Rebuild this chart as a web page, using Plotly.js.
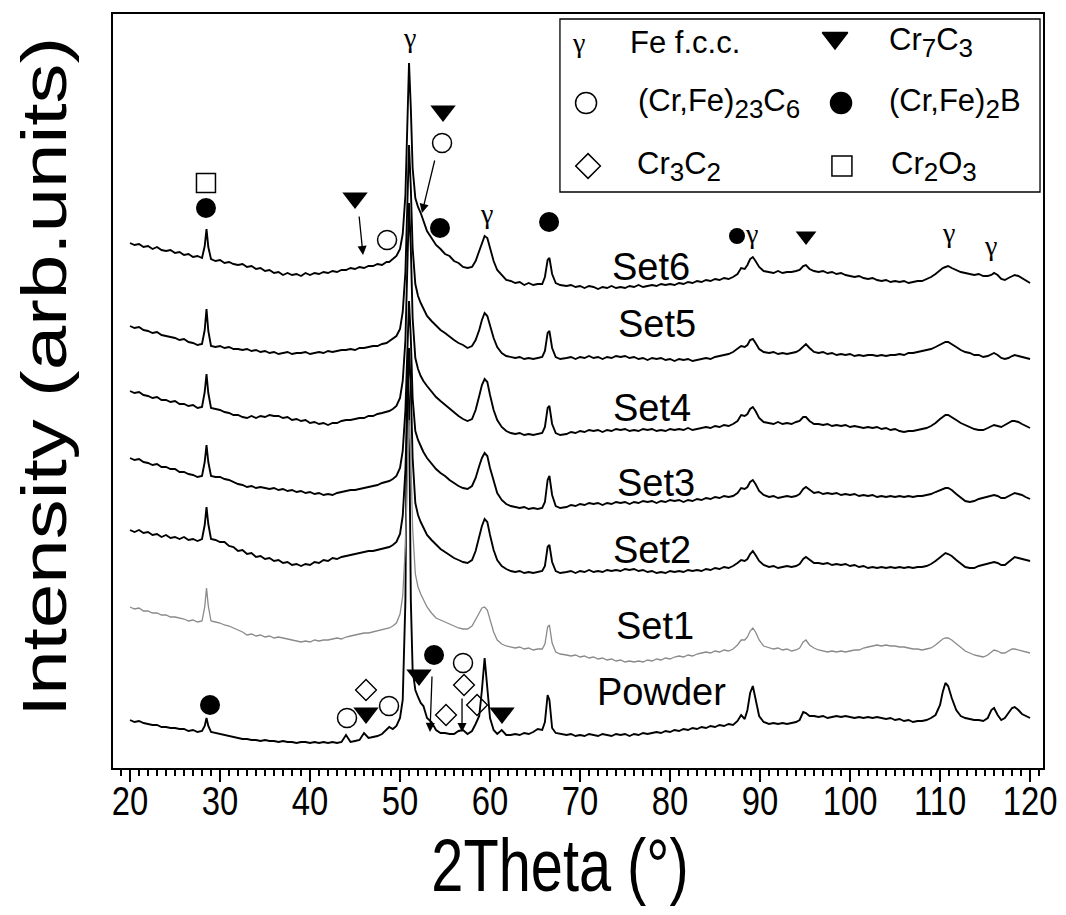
<!DOCTYPE html>
<html>
<head>
<meta charset="utf-8">
<script src="https://cdn.plot.ly/plotly-3.0.1.min.js"></script>
<style>
  html, body { margin: 0; padding: 0; background: #fff; }
  #chart { width: 1066px; height: 915px; }
</style>
</head>
<body>
<div id="chart"></div>
<script>
// 2Theta grid (degrees)
const twoTheta = [
  20,20.5,21,21.5,22,22.5,23,23.5,24,24.5,25,25.5,26,26.5,27,27.5,
  28,28.3,28.5,28.7,29,
  29.5,30,30.5,31,31.5,32,32.5,33,33.5,34,34.5,35,35.5,36,36.5,37,37.5,38,38.5,39,39.5,40,40.5,41,41.5,42,42.5,43,43.5,
  44,44.5,45,45.5,46,46.5,47,47.5,48,48.5,48.8,49.2,49.6,50,50.3,50.6,50.8,51,51.2,51.4,51.7,52,52.3,52.6,53,53.5,54,54.5,55,55.5,56,56.5,57,57.5,58,58.4,58.8,59.1,59.4,59.7,60,60.4,60.8,61.3,61.8,62.3,62.8,63.3,63.8,64.3,64.8,65.3,65.8,66.1,66.4,66.6,66.9,67.3,67.8,
  68.5,69,69.5,70,70.5,71,71.5,72,72.5,73,73.5,74,74.5,75,75.5,76,76.5,77,77.5,78,78.5,79,79.5,80,80.5,81,81.5,82,82.5,83,83.5,84,84.5,85,85.5,86,86.5,87,
  87.5,87.9,88.3,88.6,88.9,89.2,89.5,89.9,90.4,91,91.5,92,92.5,93,93.5,94,94.4,94.8,95.1,95.5,96,
  96.5,97,97.5,98,98.5,99,99.5,100,100.5,101,101.5,102,102.5,103,103.5,104,104.5,105,105.5,106,106.5,107,107.5,108,108.5,
  109,109.5,110,110.3,110.6,110.9,111.3,111.8,112.3,112.8,113.3,113.8,114.3,114.8,115.3,115.7,116,116.4,116.8,117.2,117.6,118,118.3,118.7,119.1,119.5,120
];

// Intensities (arb. units, stacked as displayed)
const set6 = [
  525,523,524,521,522,519,521,518,517,518,515,516,513,514,511,512,
  510,522,539,521,509,
  507,508,505,506,504,503,504,501,502,499,500,497,498,495,496,493,495,493,494,492,495,493,495,494,496,495,497,496,498,
  498,500,499,501,500,502,502,504,503,506,506,509,512,519,534,573,643,705,660,600,570,561,555,547,537,530,523,519,514,512,507,505,501,500,501,507,517,525,532,530,519,507,498,493,488,487,485,486,483,485,483,484,484,491,508,510,494,485,483,
  482,483,481,482,480,482,481,479,481,480,482,480,481,480,482,481,483,481,482,483,482,484,483,484,483,485,484,486,485,487,486,488,487,489,488,490,489,491,
  494,500,499,503,509,511,507,501,497,496,495,497,495,496,496,497,498,502,503,499,497,
  496,497,495,496,494,495,493,492,491,492,490,489,490,488,487,488,486,487,486,487,485,486,487,487,489,
  491,494,498,500,501,502,500,498,496,495,494,493,494,492,492,493,495,493,489,488,490,492,493,492,490,488,485
];
const set5 = [
  442,440,441,438,437,435,436,433,432,431,430,428,429,426,425,423,
  424,438,459,437,422,
  421,422,420,421,419,419,418,419,417,418,416,417,415,416,414,415,416,414,415,415,416,414,415,416,415,417,416,417,418,
  418,419,418,420,420,421,422,422,424,425,427,429,432,439,456,496,563,623,580,520,484,472,465,459,452,447,442,438,435,431,428,425,423,420,422,428,438,448,455,452,442,430,421,415,412,411,410,411,409,410,409,410,411,417,435,437,420,411,409,
  410,411,409,411,410,412,410,411,409,411,410,412,411,412,410,411,409,410,408,410,409,410,408,409,407,409,408,409,407,408,409,410,409,411,412,413,414,416,
  419,422,421,423,428,429,425,419,416,415,416,414,415,414,415,416,418,422,424,420,416,
  415,416,414,415,413,414,413,414,412,413,412,413,413,412,413,412,413,413,414,413,415,415,416,417,418,
  419,421,423,425,426,426,424,421,418,416,415,413,413,411,412,414,415,413,410,409,410,412,413,412,411,410,409
];
const set4 = [
  377,375,376,373,372,370,371,368,368,366,367,364,364,362,363,360,
  361,376,394,375,360,
  359,358,356,355,353,353,351,350,352,350,352,351,353,352,352,350,351,348,349,347,348,345,346,344,345,343,345,345,347,
  348,348,349,350,350,352,352,354,355,356,357,359,362,370,387,428,500,565,520,450,410,399,392,387,382,376,371,367,363,359,355,352,349,347,349,358,372,383,389,386,373,358,348,341,337,335,334,335,333,334,333,334,335,341,360,362,344,335,333,
  334,336,335,337,336,338,337,338,336,338,337,339,338,339,337,338,337,339,338,339,337,338,337,339,338,339,338,340,338,339,340,341,340,342,341,343,342,344,
  347,353,352,354,359,361,357,350,346,345,344,346,344,345,344,346,347,351,351,347,344,
  344,343,344,342,343,342,343,341,342,341,340,341,340,341,339,340,338,339,337,336,337,337,338,339,340,
  342,345,349,351,353,353,351,348,345,343,341,339,338,338,340,342,343,342,341,343,345,347,347,346,344,342,340
];
const set3 = [
  310,308,309,306,305,303,304,301,301,299,299,296,296,294,293,291,
  292,306,323,306,292,
  291,291,289,288,286,284,283,281,282,280,281,280,279,280,278,279,277,278,276,277,275,276,274,275,273,274,273,275,276,
  277,278,278,279,280,281,282,283,285,286,287,289,292,300,317,358,418,467,430,370,337,328,322,316,310,304,299,295,292,288,285,282,280,279,282,290,302,310,315,312,300,286,275,268,264,262,261,260,261,259,260,259,260,266,288,292,273,262,260,
  261,263,262,264,263,265,264,265,263,265,264,266,265,266,264,266,265,267,266,267,265,267,266,268,267,268,266,268,267,269,268,270,269,271,270,272,271,272,
  275,280,279,281,286,288,284,277,273,271,272,270,271,272,271,272,274,279,281,278,275,
  276,274,275,274,275,273,274,273,274,272,273,272,273,271,272,271,272,271,272,271,272,271,272,272,273,
  274,276,278,279,280,280,278,274,270,267,266,267,269,270,271,272,273,272,270,270,272,274,275,274,273,271,269
];
const set2 = [
  238,236,238,235,236,233,234,231,233,230,231,229,231,228,229,227,
  229,243,261,244,229,
  228,226,226,222,221,217,218,214,215,211,212,209,210,207,208,205,206,203,204,202,204,203,206,205,208,207,210,209,211,
  212,213,214,215,216,217,217,218,219,220,221,223,226,234,252,298,368,420,380,310,265,253,246,240,233,228,223,219,216,213,210,208,206,205,208,217,231,242,249,246,233,218,208,202,199,197,196,197,195,196,195,196,197,202,221,223,206,197,195,
  196,197,195,197,196,198,196,197,196,198,197,198,197,199,198,199,197,198,196,197,195,196,195,197,196,197,196,198,197,198,197,199,198,200,199,201,200,202,
  205,208,207,209,214,217,213,207,203,201,202,200,201,202,201,202,204,209,211,208,205,
  205,204,205,203,204,203,204,202,203,201,202,200,201,200,201,200,201,200,201,200,201,200,201,201,202,
  204,207,211,213,215,214,212,208,204,201,200,200,202,203,204,205,206,205,203,203,206,209,211,210,209,208,207
];
const set1 = [
  161,159,160,157,157,155,155,153,153,151,151,150,149,147,148,146,
  147,161,180,162,147,
  146,145,143,142,140,138,136,133,134,132,133,131,132,130,131,130,129,128,127,126,127,126,128,127,128,128,129,130,129,
  131,132,133,134,135,135,136,137,138,139,140,142,145,154,172,223,298,348,310,240,194,181,174,168,161,155,150,148,146,144,142,140,139,139,142,148,155,160,161,158,148,136,128,124,122,121,120,121,119,120,118,119,119,124,141,143,125,116,114,
  113,112,113,111,112,110,111,109,110,108,109,107,108,106,107,106,107,106,108,107,109,108,110,109,111,112,111,113,112,114,115,116,115,117,116,118,117,119,
  123,128,128,131,137,140,136,128,122,120,119,120,118,119,117,118,120,126,128,123,120,
  118,117,116,117,116,117,116,117,118,118,120,121,122,123,122,123,122,122,121,121,120,119,119,118,119,
  120,123,127,129,130,130,128,124,120,117,115,113,112,111,113,116,118,117,115,115,117,119,119,118,117,116,115
];
const powder = [
  48,46,47,45,44,43,43,41,41,40,40,39,39,37,38,36,
  37,42,50,42,36,
  35,34,33,32,31,30,29,29,28,28,27,28,27,27,26,27,26,26,25,26,26,25,26,25,26,25,26,25,26,
  33,26,27,28,35,30,31,32,34,38,41,39,42,50,68,168,408,368,168,98,78,71,65,62,50,46,38,35,35,34,34,37,38,34,37,44,52,78,110,80,50,38,34,38,33,33,34,33,35,34,36,39,38,46,73,68,40,35,34,
  33,34,32,33,32,34,33,32,34,33,32,34,33,34,32,34,33,35,34,35,36,35,37,36,38,37,39,38,40,39,41,40,42,41,43,42,44,43,
  47,53,49,58,75,82,68,52,46,44,45,44,45,44,45,46,48,56,55,52,52,
  51,52,50,51,52,51,52,51,50,51,50,51,50,51,50,49,50,48,49,47,48,46,47,47,48,
  50,53,63,76,85,82,70,58,52,50,49,48,48,47,50,58,60,53,48,50,55,60,61,58,54,52,50
];

const seriesNames = ['Powder','Set1','Set2','Set3','Set4','Set5','Set6'];
const seriesData  = [powder, set1, set2, set3, set4, set5, set6];
const seriesColors = ['#000000','#8a8a8a','#000000','#000000','#000000','#000000','#000000'];
const seriesWidths = [1.9, 1.3, 1.9, 1.9, 1.9, 1.9, 1.9];

// Curve labels
const labelText = ['Set6','Set5','Set4','Set3','Set2','Set1','Powder'];
const labelX = [77.9, 78.6, 78.0, 78.4, 78.0, 78.3, 79.1];
const labelY = [501, 444, 360, 285, 218, 142, 76];

// Phase markers on the patterns
const filledCircleX = [28.44, 54.44, 66.56, 87.44, 28.89, 53.78];
const filledCircleY = [560, 540, 546, 532, 63, 113];
const filledCircleS = [20, 20, 20, 16, 20, 20];
const openCircleX = [48.56, 54.67, 44.11, 48.78, 57.0];
const openCircleY = [528, 625, 50, 62, 105];
const triangleX = [45.0, 54.78, 95.11, 46.22, 52.11, 61.33];
const triangleY = [570, 657, 532, 55, 93, 55];
const triangleS = [22, 22, 18, 22, 22, 22];
const diamondX = [46.22, 55.11, 57.11, 58.56];
const diamondY = [78, 53, 83, 63];
const squareX = [28.44];
const squareY = [585];

// gamma (Fe f.c.c.) labels
const gammaX = [51.0, 59.63, 89.1, 110.9, 115.56];
const gammaY = [731, 555, 535, 536, 523];

// arrows: [tipX, tipY, tailX, tailY]
const arrows = [
  [45.89, 513, 45.44, 553],
  [52.44, 555, 53.89, 609],
  [53.33, 36, 53.56, 93],
  [56.89, 36, 56.89, 71]
];

// key (legend box)
const keySymbols = ['triangle-down','circle-open','circle','diamond-open','square-open'];
const keyX = [98.33, 70.67, 99.0, 70.89, 99.1];
const keyY = [730, 665, 665, 602, 602];
const keySizes = [22, 21, 21, 19, 20];
const SUB = s => '<sub><span style="font-size:26px">' + s + '</span></sub>';
const keyText = ['Fe f.c.c.', 'Cr' + SUB('7') + 'C' + SUB('3'), '(Cr,Fe)' + SUB('23') + 'C' + SUB('6'),
                 '(Cr,Fe)' + SUB('2') + 'B', 'Cr' + SUB('3') + 'C' + SUB('2'), 'Cr' + SUB('2') + 'O' + SUB('3')];
const keyTextX = [75.33, 104.1, 76.2, 104.1, 76.1, 104.3];
const keyTextY = [726, 726, 665, 665, 602, 602];

const SANS = '"Liberation Sans", Arial, sans-serif';
const SERIF = '"Liberation Serif", "Times New Roman", serif';

const traces = [];
seriesData.forEach((d, i) => {
  traces.push({
    x: twoTheta, y: d, name: seriesNames[i], type: 'scatter', mode: 'lines',
    line: {color: seriesColors[i], width: seriesWidths[i]}, hoverinfo: 'skip', showlegend: false
  });
});
function markerTrace(x, y, symbol, size, lw) {
  return {x: x, y: y, type: 'scatter', mode: 'markers', hoverinfo: 'skip', showlegend: false,
    marker: {symbol: symbol, size: size, color: '#000', opacity: 1, line: {color: '#000', width: lw}}};
}
traces.push(markerTrace(filledCircleX, filledCircleY, 'circle', filledCircleS, 0));
traces.push(markerTrace(openCircleX, openCircleY, 'circle-open', 19, 1.5));
traces.push(markerTrace(triangleX, triangleY, 'triangle-down', triangleS, 0));
traces.push(markerTrace(diamondX, diamondY, 'diamond-open', 16, 1.4));
traces.push(markerTrace(squareX, squareY, 'square-open', 19, 1.5));
traces.push({x: keyX, y: keyY, type: 'scatter', mode: 'markers', hoverinfo: 'skip', showlegend: false,
  marker: {symbol: keySymbols, size: keySizes, color: '#000', opacity: 1, line: {color: '#000', width: 1.5}}});

const annotations = [];
labelText.forEach((t, i) => annotations.push({
  x: labelX[i], y: labelY[i], xref: 'x', yref: 'y', text: t, showarrow: false,
  font: {family: SANS, size: 38, color: '#000'}, xanchor: 'center', yanchor: 'middle'
}));
gammaX.forEach((gx, i) => annotations.push({
  x: gx, y: gammaY[i], xref: 'x', yref: 'y', text: 'γ', showarrow: false,
  font: {family: SERIF, size: 28, color: '#000'}, xanchor: 'center', yanchor: 'middle'
}));
annotations.push({x: 69.78, y: 726, xref: 'x', yref: 'y', text: 'γ', showarrow: false,
  font: {family: SERIF, size: 28, color: '#000'}, xanchor: 'center', yanchor: 'middle'});
keyText.forEach((t, i) => annotations.push({
  x: keyTextX[i], y: keyTextY[i], xref: 'x', yref: 'y', text: t, showarrow: false,
  font: {family: SANS, size: 31, color: '#000'}, xanchor: 'left', yanchor: 'middle'
}));
arrows.forEach(a => annotations.push({
  x: a[0], y: a[1], ax: a[2], ay: a[3], xref: 'x', yref: 'y', axref: 'x', ayref: 'y',
  text: '', showarrow: true, arrowhead: 2, arrowsize: 1.4, arrowwidth: 1.3, arrowcolor: '#000'
}));

const layout = {
  width: 1066, height: 915,
  margin: {l: 113, r: 23, t: 14, b: 147},
  paper_bgcolor: '#fff', plot_bgcolor: '#fff',
  showlegend: false,
  xaxis: {
    range: [18.11, 121.44], tickmode: 'linear', tick0: 0, dtick: 10,
    ticks: 'outside', ticklen: 12, tickwidth: 2, tickcolor: '#000',
    showline: true, linewidth: 2, linecolor: '#000', mirror: true,
    showgrid: false, zeroline: false,
    tickfont: {family: SANS, size: 41, color: '#000'},
    minor: {dtick: 1, tick0: 0, ticks: 'outside', ticklen: 6, tickwidth: 1.5, tickcolor: '#000', showgrid: false},
    title: {text: '2Theta (°)', font: {family: SANS, size: 74, color: '#000'}, standoff: 14}
  },
  yaxis: {
    range: [0, 754], showticklabels: false, ticks: '',
    showline: true, linewidth: 2, linecolor: '#000', mirror: true,
    showgrid: false, zeroline: false,
    title: {text: 'Intensity (arb.units)', font: {family: SANS, size: 80, color: '#000'}, standoff: 30}
  },
  shapes: [{type: 'rect', xref: 'paper', yref: 'paper', x0: 0.4806, x1: 0.9968, y0: 0.7639, y1: 0.9934,
    line: {color: '#000', width: 1.3}, fillcolor: 'rgba(0,0,0,0)'}],
  annotations: annotations
};

// The reference uses horizontally condensed axis lettering: squeeze those texts in place
// (sx, sy: scale about the text's own centre; dx, dy: shift in the text's own frame).
function squeeze(el, sx, sy, dx, dy) {
  if (!el) return;
  const bb = el.getBBox();
  const cx = bb.x + bb.width / 2, cy = bb.y + bb.height / 2;
  const t = el.getAttribute('transform') || '';
  el.setAttribute('transform', t + ' translate(' + dx + ',' + dy + ') translate(' + cx + ',' + cy + ') scale(' + sx + ',' + sy + ') translate(' + (-cx) + ',' + (-cy) + ')');
}

Plotly.newPlot('chart', traces, layout, {displayModeBar: false, staticPlot: true}).then(gd => {
  gd.querySelectorAll('.xtick text').forEach(el => squeeze(el, 0.80, 1, 0, -16));
  squeeze(gd.querySelector('.xtitle'), 0.78, 1, -18, -8);
  squeeze(gd.querySelector('.ytitle'), 1, 0.78, 14, 0);
});
</script>
</body>
</html>
